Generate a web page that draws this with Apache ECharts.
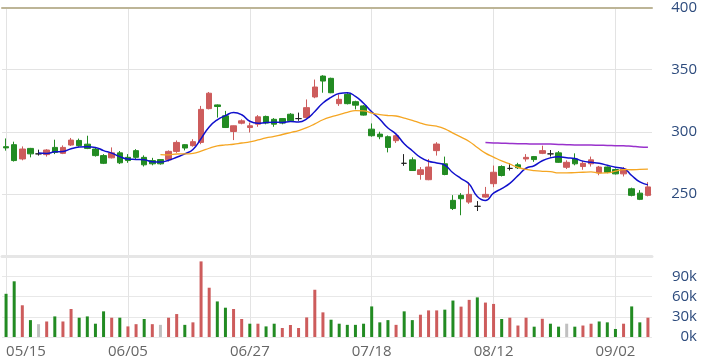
<!DOCTYPE html>
<html><head><meta charset="utf-8">
<script src="https://cdn.jsdelivr.net/npm/echarts@6/dist/echarts.min.js"></script>
<style>html,body{margin:0;padding:0;background:#fff}#c{width:705px;height:359px}</style>
</head><body><div id="c"></div>
<script>
const dates = ['05/15','05/16','05/17','05/20','05/21','05/22','05/23','05/24','05/27','05/28',
'05/29','05/30','05/31','06/03','06/04','06/05','06/07','06/10','06/11','06/12',
'06/13','06/14','06/17','06/18','06/19','06/20','06/21','06/24','06/25','06/26',
'06/27','06/28','07/01','07/02','07/03','07/04','07/05','07/08','07/09','07/10',
'07/11','07/12','07/15','07/16','07/17','07/18','07/19','07/22','07/23','07/24',
'07/25','07/26','07/29','07/30','07/31','08/01','08/02','08/05','08/06','08/07',
'08/12','08/13','08/14','08/15','08/16','08/19','08/20','08/21','08/22','08/23',
'08/26','08/27','08/28','08/29','08/30','09/02','09/03','09/04','09/05','09/06'];
const opens = [288,289.6,278.1,286.6,282.2,281.6,287.4,282.6,289.3,293,
290,286.1,280.8,279,283,279.4,284.8,279.4,276.8,277.6,
277.4,284.2,289.6,288.8,291.4,318.6,321.6,312.8,300.2,306.9,
303.4,306.1,312.3,310,310.6,314.1,310.6,311.4,328,344.8,
343,322.6,330.1,324.2,320.8,302.1,298.1,296,292.8,274.6,
277.4,265.6,261.4,284.8,274.2,244.8,248.8,243.4,240,247.4,
258.2,272,270.5,273.4,278.1,280,282.6,282.2,283,271.4,
278.1,272,274.2,266.9,271.6,269.6,266.1,254.1,250.6,248.8];
const closes = [287,276.8,286.1,282.2,282.2,285.3,283.4,287.4,293.3,288.8,
286.6,280.8,274.6,283,275,276.8,279.4,273.4,274.2,274.2,
284.2,291.4,286.9,292,318,331,320.3,303.4,304.8,308.8,
304.8,312,307,306.1,307,308.8,310.6,319.4,336,340.8,
331.4,326.1,322.6,321.4,313.4,296.8,296,287.4,296.8,274.6,
268.8,269.4,271.6,290.1,265.6,238.2,246.1,249.6,240,249.6,
267.4,264.8,270.5,271,279.4,277.6,284.8,282.2,275.4,275.4,
274.2,274.6,277.4,271.6,267.4,266.1,270.1,248.8,245.6,255.6];
const lows = [284.8,276,277,279.4,280.8,280,282,282,288.5,288,
286,280,274,278.5,274,275,278,272,273,273.5,
276,283,285,288,290,318,311.4,303,293.3,306,
299.4,304,306,304,306,308,308.8,311,327,331.4,
331,320.8,322,318,313,296,294,283.4,291,272.6,
268.6,261.4,261,280.8,265,237,232.8,242,236.2,246.8,
255.4,264,268.8,270,276,275.8,282,280,275,270,
273,269.4,272,265,266.6,265.6,264,248,245,248];
const highs = [294.6,292,288.2,287,285.6,286,293.6,289,295,294.5,
296.8,287,282,287.4,284.5,282,286,281,279,278,
285,293,290,294,320.8,332,322,316.8,305,310,
307.4,313.4,313,311,311,315,315.4,326,342,345.5,
343.5,330,331,325,321.5,306.7,300,297,297.5,282,
279.4,271.6,278.1,291.6,280,249,250.6,259.4,244.2,255.6,
272.8,273,274.6,275,282,280.5,288.8,285.3,284.5,277,
282.6,276.6,280,272.5,272,270.5,271.6,255,253,259.4];
const volumes = [64,82.5,47,25,19,23,30.5,23,41.5,28.6,
30.5,19.7,38,28.6,28.6,15.7,19,26.7,19,18,
28.6,34,18,21.7,112,73,52.7,43.4,41.5,26.7,
19.7,19.7,15.7,19.7,13.3,17.8,13.3,29,70,36.5,
25.6,19.7,18,18,19.7,45.3,21.7,25,18,38,
25,33,39.4,39.4,40.5,54,45,55,58.7,51,
49,26.7,28.6,17,28.6,15.3,27,19.7,15.3,19.7,
15.3,17,19.7,23,21.7,11.9,19.7,45.3,21.7,28.6];
const priceTickLabels = ['250','300','350','400'];
const volumeTickLabels = ['0k','30k','60k','90k'];

const UP = '#cd5c5c', DOWN = '#228b22', FLAT = '#c0c0c0';
const candleData = dates.map((d, i) => [opens[i], closes[i], lows[i], highs[i]]);
function ma(n) {
  return closes.map((c, i) => {
    if (i < n - 1) return '-';
    let s = 0; for (let k = i - n + 1; k <= i; k++) s += closes[k];
    return +(s / n).toFixed(2);
  });
}
const volData = volumes.map((v, i) => {
  const prev = i > 0 ? closes[i - 1] : opens[0];
  const col = closes[i] > prev ? UP : (closes[i] < prev ? DOWN : FLAT);
  return { value: v, itemStyle: { color: col } };
});
const FONT = 'Open Sans';
const chart = echarts.init(document.getElementById('c'));
chart.setOption({
  animation: false,
  backgroundColor: '#fff',
  grid: [
    { left: 2, right: 53, top: 6, height: 250 },
    { left: 2, right: 53, top: 256, height: 81 }
  ],
  xAxis: [
    { type: 'category', gridIndex: 0, data: dates, boundaryGap: true, position: 'bottom',
      axisLine: { show: true, onZero: false, lineStyle: { color: '#e6e6e6', width: 3 } },
      axisTick: { show: false }, axisLabel: { show: false },
      splitLine: { show: true, interval: 14, alignWithLabel: true, lineStyle: { color: '#e3e3e3', width: 1 } } },
    { type: 'category', gridIndex: 1, data: dates, boundaryGap: true, position: 'bottom',
      axisLine: { show: false }, axisTick: { show: false },
      axisLabel: { interval: 14, alignMinLabel: 'left', margin: 7, color: '#666', fontFamily: FONT, fontSize: 15 },
      splitLine: { show: true, interval: 14, alignWithLabel: true, lineStyle: { color: '#e3e3e3', width: 1 } } },
    { type: 'category', gridIndex: 0, data: dates, boundaryGap: true, position: 'top',
      axisLine: { show: true, onZero: false, lineStyle: { color: '#bdb597', width: 2 } },
      axisTick: { show: false }, axisLabel: { show: false }, splitLine: { show: false } }
  ],
  yAxis: [
    { type: 'value', gridIndex: 0, position: 'right', min: 200, max: 400, interval: 50, scale: false,
      axisLine: { show: false }, axisTick: { show: false },
      axisLabel: { margin: 45, align: 'right', color: '#2d4b7d', fontFamily: FONT, fontSize: 15,
        formatter: v => priceTickLabels.includes(String(v)) ? String(v) : '' },
      splitLine: { show: true, lineStyle: { color: ['rgba(0,0,0,0)', '#e3e3e3', '#e3e3e3', '#e3e3e3', 'rgba(0,0,0,0)'], width: 1 } } },
    { type: 'value', gridIndex: 1, position: 'right', min: 0, max: 120, interval: 30,
      axisLine: { show: false }, axisTick: { show: false },
      axisLabel: { margin: 45, align: 'right', color: '#2d4b7d', fontFamily: FONT, fontSize: 15,
        formatter: v => volumeTickLabels.includes(v + 'k') ? v + 'k' : '' },
      splitLine: { show: true, lineStyle: { color: ['#e8e8e8', '#e8e8e8', '#e8e8e8', '#e8e8e8', 'rgba(0,0,0,0)'], width: 1 } } }
  ],
  series: [
    { type: 'candlestick', xAxisIndex: 0, yAxisIndex: 0, data: candleData, barWidth: 6,
      itemStyle: { color: UP, color0: DOWN, borderColor: UP, borderColor0: DOWN, borderColorDoji: '#222', borderWidth: 1 } },
    { type: 'line', name: 'MA5', xAxisIndex: 0, yAxisIndex: 0, data: ma(5), smooth: true, symbol: 'none',
      lineStyle: { color: '#1010cc', width: 1.5 } },
    { type: 'line', name: 'MA20', xAxisIndex: 0, yAxisIndex: 0, data: ma(20), smooth: true, symbol: 'none',
      lineStyle: { color: '#f5a623', width: 1.3 } },
    { type: 'line', name: 'MA60', xAxisIndex: 0, yAxisIndex: 0, data: ma(60), smooth: true, symbol: 'none',
      lineStyle: { color: '#9932cc', width: 1.5 } },
    { type: 'bar', xAxisIndex: 1, yAxisIndex: 1, data: volData, barWidth: 3 }
  ]
});
</script></body></html>
